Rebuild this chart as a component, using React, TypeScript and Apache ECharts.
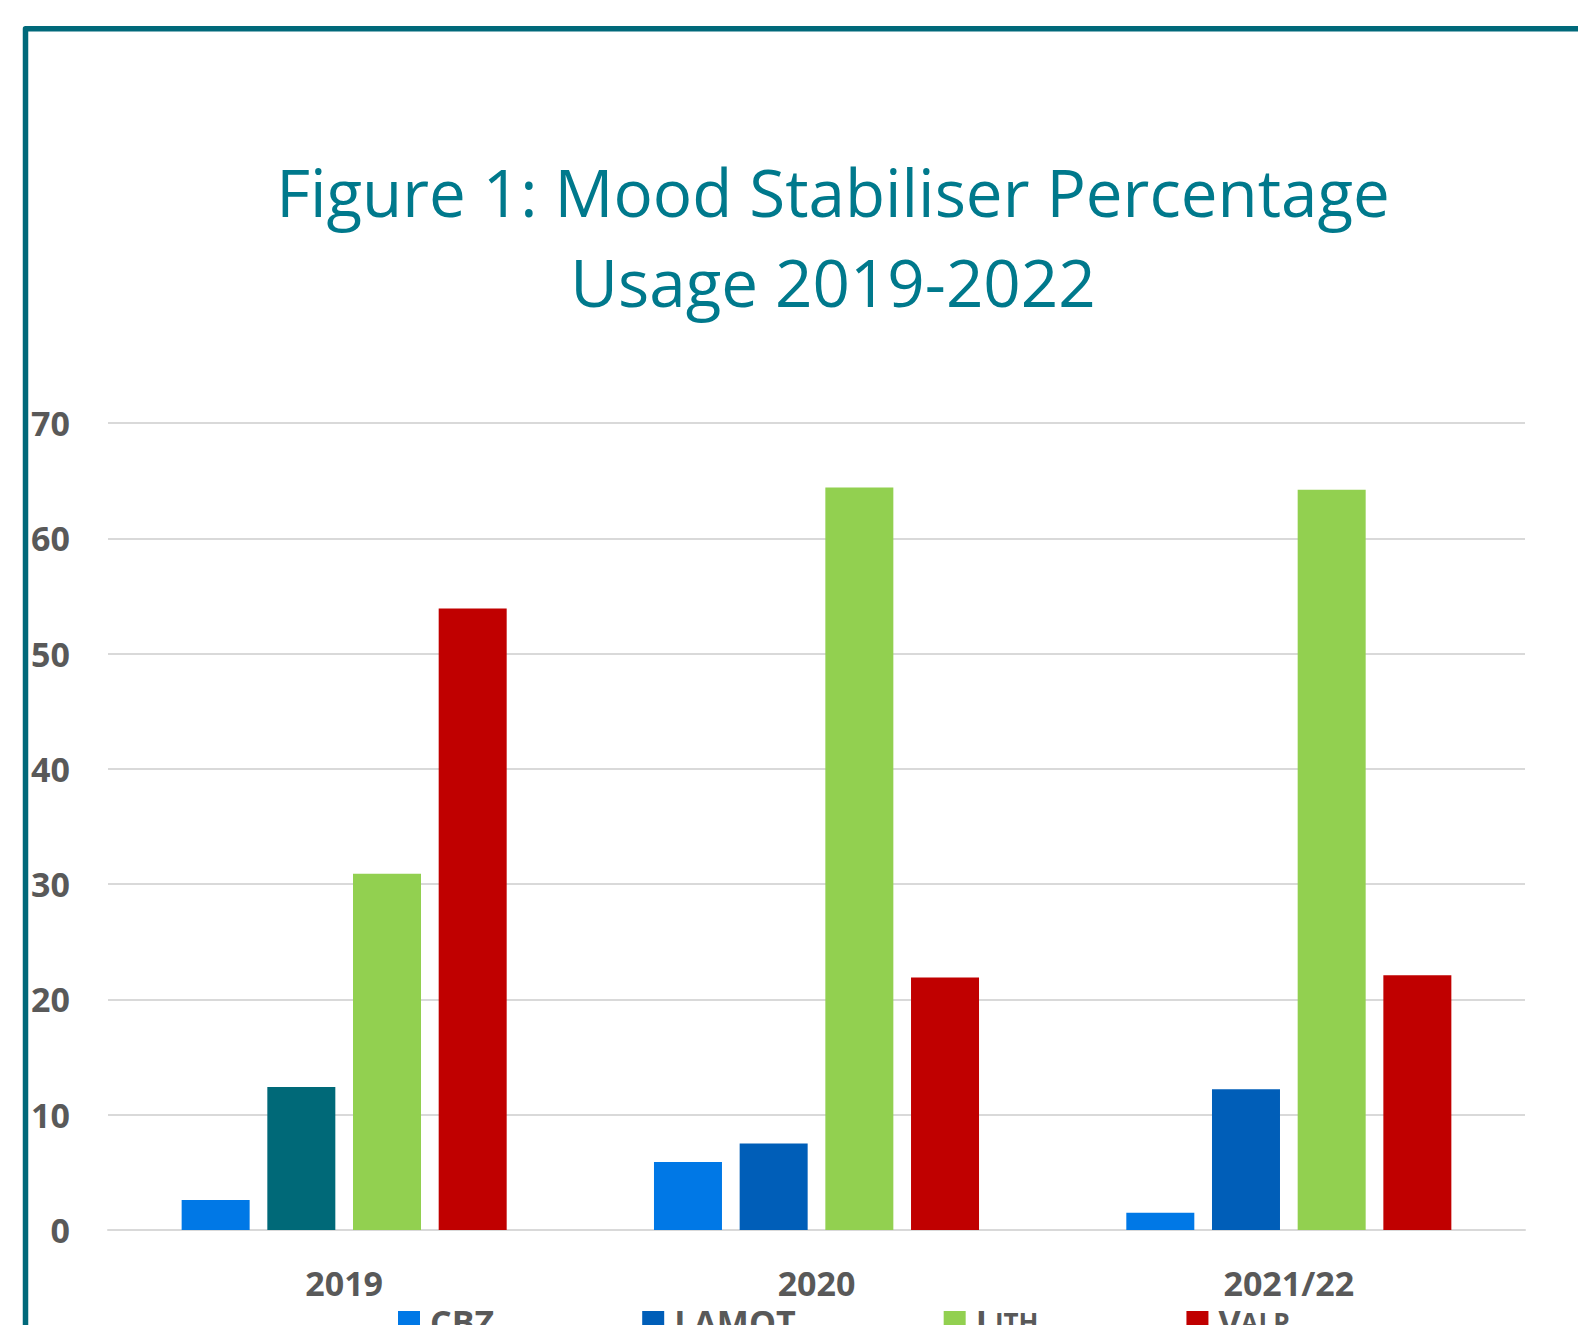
import React, { useEffect, useRef } from "react";
import * as echarts from "echarts";

const categories = ["2019", "2020", "2021/22"];
const seriesNames = ["CBZ", "LAMOT", "Lith", "Valp"];
const cbz = [2.6, 5.9, 1.5];
const lamot = [12.4, 7.5, 12.2];
const lith = [30.9, 64.4, 64.2];
const valp = [53.9, 21.9, 22.1];
const yTicks = [0, 10, 20, 30, 40, 50, 60, 70];

const colors = ["#0078e6", "#005eb8", "#92d050", "#c00000"];
const lamot2019Color = "#006978";
const labelColor = "#595959";
const font = "'Open Sans', 'Noto Sans', sans-serif";

export default function App() {
  const ref = useRef<HTMLDivElement>(null);
  useEffect(() => {
    document.documentElement.style.overflow = "hidden";
    document.body.style.margin = "0";
    document.body.style.overflow = "hidden";
    if (!ref.current) return;
    const chart = echarts.init(ref.current, null, { renderer: "svg" });
    const values = [cbz, lamot, lith, valp];
    chart.setOption({
      animation: false,
      backgroundColor: "#ffffff",
      title: {
        text: "Figure 1: Mood Stabiliser Percentage\nUsage 2019-2022",
        left: 828,
        textAlign: "center",
        top: 141,
        textStyle: {
          fontFamily: font,
          fontWeight: "normal",
          fontSize: 65.5,
          lineHeight: 90,
          color: "#00798c",
        },
      },
      graphic: [
        {
          type: "polyline",
          shape: { points: [[25.5, 1330], [25.5, 28.8], [1590, 28.8]] },
          style: { stroke: "#00697a", lineWidth: 5.5, fill: "none", lineJoin: "round" },
          silent: true,
        },
      ],
      legend: {
        data: seriesNames,
        left: 393,
        top: 1300,
        itemWidth: 22,
        itemHeight: 22,
        itemGap: 148,
        icon: "rect",
        formatter: (name: string) =>
          name === "Lith" || name === "Valp"
            ? `{big|${name[0]}}{small|${name.slice(1).toUpperCase()}}`
            : `{big|${name}}`,
        textStyle: {
          fontFamily: font,
          fontWeight: "bold",
          fontSize: 34,
          color: labelColor,
          padding: [0, 0, 0, 5],
          rich: {
            big: { fontFamily: font, fontWeight: "bold", fontSize: 34, color: labelColor, lineHeight: 22 },
            small: { fontFamily: font, fontWeight: "bold", fontSize: 26, color: labelColor, lineHeight: 22 },
          },
        },
      },
      grid: { left: 108, right: 53, top: 423, bottom: 95, containLabel: false },
      xAxis: {
        type: "category",
        data: categories,
        axisLine: { show: true, lineStyle: { color: "#d9d9d9", width: 2 } },
        axisTick: { show: false },
        axisLabel: {
          margin: 36,
          fontFamily: font,
          fontWeight: "bold",
          fontSize: 34,
          color: labelColor,
        },
      },
      yAxis: {
        type: "value",
        min: yTicks[0],
        max: yTicks[yTicks.length - 1],
        interval: 10,
        axisLine: { show: false },
        axisTick: { show: false },
        splitLine: { lineStyle: { color: "#d9d9d9", width: 2 } },
        axisLabel: {
          margin: 38,
          fontFamily: font,
          fontWeight: "bold",
          fontSize: 34,
          color: labelColor,
        },
      },
      series: seriesNames.map((name, i) => ({
        name,
        type: "bar",
        barWidth: 68,
        barGap: "26%",
        itemStyle: { color: colors[i] },
        data: values[i].map((v, j) =>
          i === 1 && j === 0 ? { value: v, itemStyle: { color: lamot2019Color } } : v
        ),
      })),
    });
    return () => chart.dispose();
  }, []);
  return (
    <div
      ref={ref}
      style={{ position: "fixed", left: 0, top: 0, width: 1578, height: 1325 }}
    />
  );
}
